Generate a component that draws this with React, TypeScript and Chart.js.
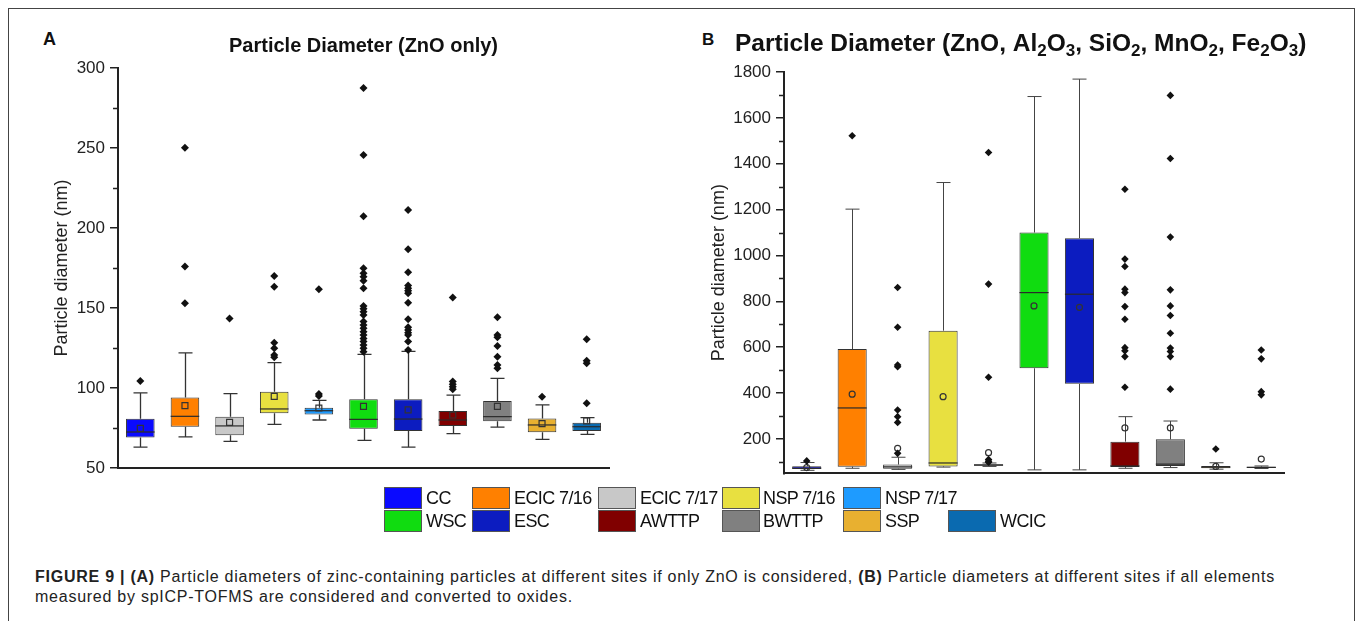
import React, { useEffect, useRef } from 'react';
import { Chart, registerables } from 'chart.js';

Chart.register(...registerables);

const FONT = '"Liberation Sans", Arial, Helvetica, sans-serif';

const CATEGORIES = ['CC', 'ECIC 7/16', 'ECIC 7/17', 'NSP 7/16', 'NSP 7/17', 'WSC', 'ESC', 'AWTTP', 'BWTTP', 'SSP', 'WCIC'];
const COLORS = ['#0a0aff', '#ff8000', '#c8c8c8', '#e8e040', '#1e9bff', '#10dc10', '#0c1cc0', '#800000', '#808080', '#e8b030', '#0a6ab0'];

// Panel A: ZnO only
const A_MIN = [63, 69.4, 66.7, 77.3, 80, 67.3, 63.1, 71.5, 75.6, 67.9, 71];
const A_Q1 = [69, 75.8, 70.4, 84.2, 83.5, 74.6, 73.1, 76.3, 79.2, 72.3, 73.1];
const A_MED = [72.5, 82.3, 76.3, 86.9, 85.8, 80.4, 80.6, 80, 82.1, 76.9, 75.8];
const A_Q3 = [80.8, 94, 82, 97.7, 87.7, 92.9, 92.9, 85.6, 91.9, 81, 78.3];
const A_MAX = [97, 122, 96.5, 115.8, 92.3, 121, 122.9, 95.6, 106, 89.4, 81.5];
const A_MEAN = [74.8, 89, 78.5, 94.8, 87.5, 88.5, 86.3, 83.1, 88.5, 77.7, 79.4];
const A_OUTLIERS = [
  [104.4],
  [250.2, 176, 153],
  [143.5],
  [170, 163.3, 128.3, 124.8, 120.6, 119.2],
  [161.7, 96.2, 95],
  [287.5, 245.6, 207.3, 174.8, 171.7, 169.6, 167.1, 162.3, 151.3, 149.6, 147.7, 145.6, 141.5, 139.4, 137.3, 135.2, 133.1, 131, 129, 126.9, 124.8, 122.7],
  [211.3, 186.7, 172.3, 164, 162.3, 160.8, 159.2, 153.3, 142.9, 137.9, 136.3, 134.6, 133.1, 129, 123.8],
  [156.5, 104, 102.3, 100.8, 99.2],
  [144.2, 133.1, 131.7, 126.3, 119.6, 114.4, 112.3],
  [94.6],
  [130.4, 117, 115.4, 90.4],
];
const A_TICKS = [50, 100, 150, 200, 250, 300];
const A_MINOR = [75, 125, 175, 225, 275];

// Panel B: ZnO, Al2O3, SiO2, MnO2, Fe2O3
const B_MIN = [63, 72, 67, 77, 80, 65, 65, 72, 75, 68, 71];
const B_Q1 = [69, 79, 70, 80, 83, 508, 440, 77, 82, 72, 73];
const B_MED = [72.5, 335, 78, 95, 86, 838, 831, 82, 90, 77, 76];
const B_Q3 = [81, 592, 88, 672, 90, 1100, 1075, 188, 198, 82, 79];
const B_MAX = [97, 1202, 120, 1318, 95, 1693, 1769, 297, 278, 96, 82];
const B_MEAN = [75, 395, 159, 384, 140, 780, 774, 248, 248, 80, 112];
const B_OUTLIERS = [
  [104],
  [1522],
  [860, 687, 522, 515, 326, 297, 272, 137],
  [],
  [1449, 875, 469, 110, 103, 98],
  [],
  [],
  [1289, 984, 952, 853, 838, 777, 722, 598, 584, 559, 425],
  [1698, 1423, 1080, 850, 780, 738, 661, 596, 581, 559, 417],
  [156],
  [588, 549, 406, 392],
];
const B_TICKS = [200, 400, 600, 800, 1000, 1200, 1400, 1600, 1800];
const B_MINOR = [100, 300, 500, 700, 900, 1100, 1300, 1500, 1700];

const TITLE_A = 'Particle Diameter (ZnO only)';
const TITLE_B_PARTS: [string, boolean][] = [
  ['Particle Diameter (ZnO, Al', false], ['2', true], ['O', false], ['3', true],
  [', SiO', false], ['2', true], [', MnO', false], ['2', true],
  [', Fe', false], ['2', true], ['O', false], ['3', true], [')', false],
];
const Y_TITLE = 'Particle diameter (nm)';

type Stats = {
  min: number[]; q1: number[]; med: number[]; q3: number[]; max: number[]; mean: number[]; outliers: number[][];
};

const STATS_A: Stats = { min: A_MIN, q1: A_Q1, med: A_MED, q3: A_Q3, max: A_MAX, mean: A_MEAN, outliers: A_OUTLIERS };
const STATS_B: Stats = { min: B_MIN, q1: B_Q1, med: B_MED, q3: B_Q3, max: B_MAX, mean: B_MEAN, outliers: B_OUTLIERS };

type PanelStyle = {
  ymin: number; ymax: number; ticks: number[]; minor: number[];
  yWidth: number; padRight: number; padTop: number; padBottom: number;
  yTitlePad: number; capHalf: number; whiskerWidth: number; whiskerColor: string;
  meanStyle: 'rect' | 'circle'; meanRadius: number; outRadius: number;
  title: 'A' | 'B';
};

function makeBoxPlugin(stats: Stats, st: PanelStyle) {
  return {
    id: 'boxExtras',
    afterDatasetDraw(chart: any, args: any) {
      if (args.meta.type !== 'bar') return;
      const ctx = chart.ctx;
      const ys = chart.scales.y;
      ctx.save();
      args.meta.data.forEach((bar: any, i: number) => {
        const cx = Math.round(bar.x) + 0.5;
        const hw = bar.width / 2;
        const pMin = ys.getPixelForValue(stats.min[i]);
        const pQ1 = ys.getPixelForValue(stats.q1[i]);
        const pMed = ys.getPixelForValue(stats.med[i]);
        const pQ3 = ys.getPixelForValue(stats.q3[i]);
        const pMax = ys.getPixelForValue(stats.max[i]);
        ctx.strokeStyle = st.whiskerColor;
        ctx.lineWidth = st.whiskerWidth;
        ctx.beginPath();
        ctx.moveTo(cx, pQ3); ctx.lineTo(cx, pMax);
        ctx.moveTo(cx - st.capHalf, pMax); ctx.lineTo(cx + st.capHalf, pMax);
        ctx.moveTo(cx, pQ1); ctx.lineTo(cx, pMin);
        ctx.moveTo(cx - st.capHalf, pMin); ctx.lineTo(cx + st.capHalf, pMin);
        ctx.stroke();
        ctx.strokeStyle = '#2a2a2a';
        ctx.lineWidth = 1.2;
        ctx.beginPath();
        ctx.moveTo(bar.x - hw, pMed); ctx.lineTo(bar.x + hw, pMed);
        ctx.stroke();
      });
      ctx.restore();
    },
    afterDraw(chart: any) {
      const ctx = chart.ctx;
      const ys = chart.scales.y;
      const left = chart.chartArea.left;
      ctx.save();
      ctx.strokeStyle = '#222';
      ctx.lineWidth = 1.5;
      ctx.beginPath();
      st.minor.forEach((v) => {
        const p = Math.round(ys.getPixelForValue(v)) + 0.5;
        ctx.moveTo(left - 5, p); ctx.lineTo(left, p);
      });
      ctx.stroke();
      if (st.title === 'B') {
        ctx.fillStyle = '#111';
        ctx.textBaseline = 'alphabetic';
        let x = 45;
        const y = 31;
        TITLE_B_PARTS.forEach(([t, sub]) => {
          ctx.font = sub ? `bold 17px ${FONT}` : `bold 24.5px ${FONT}`;
          ctx.fillText(t, x, sub ? y + 5 : y);
          x += ctx.measureText(t).width;
        });
      }
      ctx.restore();
    },
  };
}

function BoxPanel({ stats, st, left, top, width, height }: { stats: Stats; st: PanelStyle; left: number; top: number; width: number; height: number }) {
  const ref = useRef<HTMLCanvasElement>(null);
  useEffect(() => {
    if (!ref.current) return;
    const outlierPts: { x: string; y: number }[] = [];
    stats.outliers.forEach((arr, i) => arr.forEach((v) => outlierPts.push({ x: CATEGORIES[i], y: v })));
    const meanPts = stats.mean.map((v, i) => ({ x: CATEGORIES[i], y: v }));
    const chart = new Chart(ref.current, {
      type: 'bar',
      data: {
        labels: CATEGORIES,
        datasets: [
          {
            type: 'line', label: 'Outliers', data: outlierPts as any, showLine: false,
            pointStyle: 'rectRot', pointRadius: st.outRadius, pointBackgroundColor: '#111',
            pointBorderColor: '#111', pointBorderWidth: 0, pointHoverRadius: st.outRadius,
          } as any,
          {
            type: 'line', label: 'Mean', data: meanPts as any, showLine: false,
            pointStyle: st.meanStyle, pointRadius: st.meanRadius, pointBackgroundColor: 'rgba(0,0,0,0)',
            pointBorderColor: '#333', pointBorderWidth: 1.2, pointHoverRadius: st.meanRadius,
          } as any,
          {
            type: 'bar', label: 'IQR', data: CATEGORIES.map((_, i) => [stats.q1[i], stats.q3[i]]) as any,
            backgroundColor: COLORS, borderColor: '#333', borderWidth: 1, borderSkipped: false,
            barPercentage: 0.64, categoryPercentage: 1,
          } as any,
        ],
      },
      options: {
        responsive: false,
        animation: false,
        devicePixelRatio: 1,
        layout: { padding: { left: 0, right: st.padRight, top: st.padTop, bottom: st.padBottom } },
        plugins: {
          legend: { display: false },
          tooltip: { enabled: false },
          title: st.title === 'A'
            ? { display: true, text: TITLE_A, fullSize: false, color: '#111', font: { size: 20, weight: 'bold', family: FONT }, padding: { top: 14, bottom: 10 } }
            : { display: false },
        },
        scales: {
          x: {
            type: 'category', offset: true,
            grid: { display: false },
            ticks: { display: false },
            border: { display: true, color: '#222', width: 2 },
            afterFit: (s: any) => { s.height = 2; },
          },
          y: {
            type: 'linear', min: st.ymin, max: st.ymax,
            afterBuildTicks: (s: any) => { s.ticks = st.ticks.map((v) => ({ value: v })); },
            ticks: { font: { size: 17, family: FONT }, color: '#222', padding: 5, callback: (v: any) => String(v) },
            grid: { display: true, drawOnChartArea: false, drawTicks: true, tickLength: 8, color: '#222', lineWidth: 1.5 },
            border: { display: true, color: '#222', width: 2 },
            title: { display: true, text: Y_TITLE, color: '#222', font: { size: 18, family: FONT }, padding: { top: st.yTitlePad, bottom: 0 } },
            afterFit: (s: any) => { s.width = st.yWidth; },
          },
        },
      } as any,
      plugins: [makeBoxPlugin(stats, st) as any],
    });
    return () => chart.destroy();
  }, []);
  return <canvas ref={ref} width={width} height={height} style={{ position: 'absolute', left, top, width, height }} />;
}

const STYLE_A: PanelStyle = {
  ymin: 50, ymax: 300, ticks: A_TICKS, minor: A_MINOR, yWidth: 98, padRight: 31, padTop: 0, padBottom: 20,
  yTitlePad: 31, capHalf: 7, whiskerWidth: 1.3, whiskerColor: '#333', meanStyle: 'rect', meanRadius: 4.2, outRadius: 4, title: 'A',
};
const STYLE_B: PanelStyle = {
  ymin: 50, ymax: 1800, ticks: B_TICKS, minor: B_MINOR, yWidth: 94, padRight: 46, padTop: 52, padBottom: 14.7,
  yTitlePad: 18, capHalf: 7, whiskerWidth: 1, whiskerColor: '#444', meanStyle: 'circle', meanRadius: 3, outRadius: 3.8, title: 'B',
};

const LEGEND_ITEMS: { i: number; box: number; text: number; row: number; w: number }[] = [
  { i: 0, box: 384, text: 426, row: 0, w: 38 },
  { i: 1, box: 472, text: 514, row: 0, w: 38 },
  { i: 2, box: 598, text: 640, row: 0, w: 38 },
  { i: 3, box: 722, text: 763, row: 0, w: 38 },
  { i: 4, box: 843, text: 885, row: 0, w: 38 },
  { i: 5, box: 384, text: 426, row: 1, w: 38 },
  { i: 6, box: 472, text: 514, row: 1, w: 38 },
  { i: 7, box: 598, text: 640, row: 1, w: 38 },
  { i: 8, box: 722, text: 763, row: 1, w: 38 },
  { i: 9, box: 843, text: 885, row: 1, w: 38 },
  { i: 10, box: 948, text: 1000, row: 1, w: 48 },
];

export default function App() {
  const rowTop = [487, 510];
  return (
    <div style={{ position: 'absolute', left: 0, top: 0, width: 1357, height: 621, background: '#fff', overflow: 'hidden', fontFamily: FONT }}>
      <div style={{ position: 'absolute', left: 8, top: 8, width: 1345, height: 640, border: '1px solid #444' }} />
      <div style={{ position: 'absolute', left: 43, top: 30, fontSize: 18, lineHeight: '18px', fontWeight: 'bold', color: '#111' }}>A</div>
      <div style={{ position: 'absolute', left: 702, top: 31, fontSize: 17, lineHeight: '17px', fontWeight: 'bold', color: '#111' }}>B</div>
      <BoxPanel stats={STATS_A} st={STYLE_A} left={20} top={20} width={620} height={470} />
      <BoxPanel stats={STATS_B} st={STYLE_B} left={690} top={20} width={640} height={470} />
      {LEGEND_ITEMS.map((it) => (
        <React.Fragment key={it.i}>
          <div style={{ position: 'absolute', left: it.box, top: rowTop[it.row], width: it.w - 2, height: 20, background: COLORS[it.i], border: '1px solid #555' }} />
          <div style={{ position: 'absolute', left: it.text, top: rowTop[it.row], height: 22, lineHeight: '22px', fontSize: 18, letterSpacing: '-0.6px', color: '#111', whiteSpace: 'nowrap' }}>{CATEGORIES[it.i]}</div>
        </React.Fragment>
      ))}
      <div style={{ position: 'absolute', left: 35, top: 567, fontSize: 16, lineHeight: '20px', letterSpacing: '0.75px', color: '#222', whiteSpace: 'nowrap' }}>
        <b>FIGURE 9 | (A)</b> Particle diameters of zinc-containing particles at different sites if only ZnO is considered, <b>(B)</b> Particle diameters at different sites if all elements
        <br />
        measured by spICP-TOFMS are considered and converted to oxides.
      </div>
    </div>
  );
}
